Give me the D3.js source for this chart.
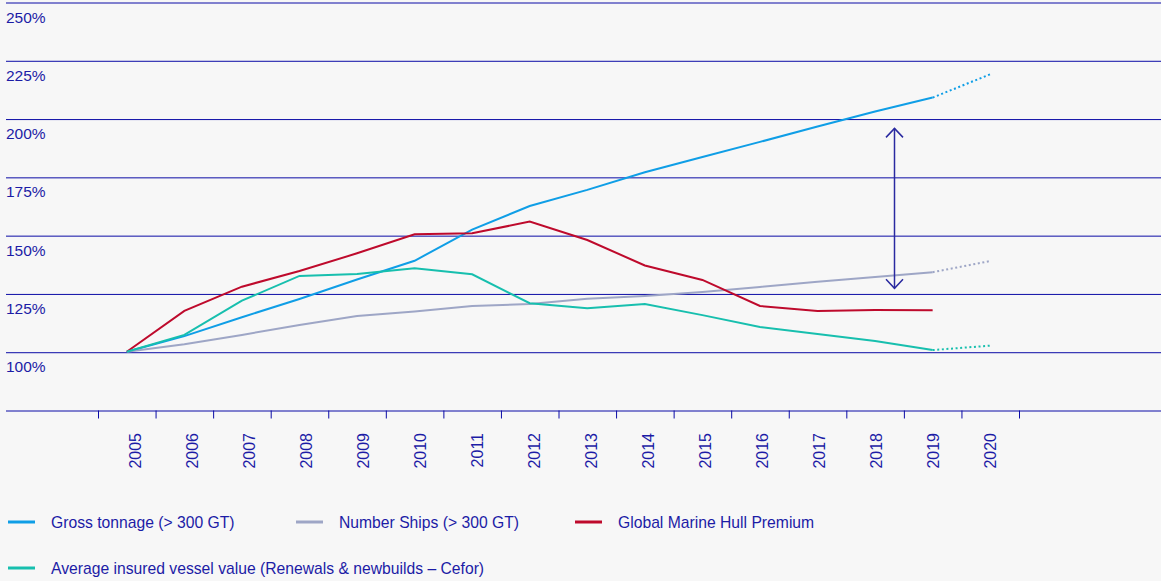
<!DOCTYPE html>
<html>
<head>
<meta charset="utf-8">
<script src="https://cdn.jsdelivr.net/npm/d3@7"></script>
<style>
  html, body { margin: 0; padding: 0; background: #f7f7f7; }
  svg { display: block; font-family: "Liberation Sans", Arial, sans-serif; }
</style>
</head>
<body>
<div id="chart"></div>
<script>
// data, index 2005 = 100%
var years = [2005, 2006, 2007, 2008, 2009, 2010, 2011, 2012, 2013, 2014, 2015, 2016, 2017, 2018, 2019, 2020];
var grossTonnage = [100, 106.7, 114.8, 122.6, 131, 139, 152.4, 162.5, 169.4, 177, 183.5, 190, 196.6, 203, 209, 219];
var numberShips = [100, 103.2, 107.2, 111.5, 115.3, 117.2, 119.6, 120.5, 122.7, 123.9, 125.6, 127.8, 130, 132, 134.1, 138.9];
var hullPremium = [100, 117.5, 127.9, 134.6, 142.2, 150.4, 150.8, 155.8, 147.9, 137, 130.8, 119.6, 117.5, 117.9, 117.8];
var vesselValue = [100, 107.2, 121.9, 132.5, 133.3, 135.8, 133.2, 120.8, 118.6, 120.5, 115.7, 110.6, 107.6, 104.6, 100.7, 102.6];
var yTicks = [75, 100, 125, 150, 175, 200, 225, 250];
var arrowSpan = [127.2, 195.8]; // gap marker between 2018 and 2019
var arrowYear = 2018.32;

var series = [
  { name: 'Gross tonnage (> 300 GT)', values: grossTonnage, color: '#0f9ee6' },
  { name: 'Number Ships (> 300 GT)', values: numberShips, color: '#9ea6c6' },
  { name: 'Global Marine Hull Premium', values: hullPremium, color: '#be0a2c' },
  { name: 'Average insured vessel value (Renewals & newbuilds \u2013 Cefor)', values: vesselValue, color: '#17bfae' }
];

var width = 1161, height = 581;
var ink = '#1c1ca6';
var gridInk = '#0b0ba6';

var svg = d3.select('#chart').append('svg')
  .attr('width', width)
  .attr('height', height);

var x = d3.scaleLinear().domain([2004.5, 2020.5]).range([98, 1019]);
var xLabel = d3.scaleLinear().domain([2004.5, 2020.5]).range([107, 1019]);
var y = d3.scaleLinear().domain([75, 250]).range([410, 2]);

// grid + y labels
var grid = svg.append('g').attr('transform', 'translate(6,0)')
  .call(d3.axisRight(y).tickValues(yTicks).tickSize(width - 6)
    .tickFormat(function(d) { return d === 75 ? '' : d + '%'; }));
grid.select('.domain').remove();
grid.selectAll('.tick line').attr('stroke', gridInk).attr('stroke-width', 1)
  .attr('transform', 'translate(0,0.5)');
grid.selectAll('.tick text')
  .attr('x', 0).attr('dy', 20)
  .attr('text-anchor', 'start')
  .attr('fill', ink)
  .style('font-size', '15.5px');

// x axis ticks on band boundaries
var xAxis = svg.append('g').attr('transform', 'translate(0,410.5)')
  .call(d3.axisBottom(x).tickValues(d3.range(2004.5, 2021, 1)).tickSize(8).tickFormat(''));
xAxis.select('.domain').remove();
xAxis.selectAll('.tick line').attr('stroke', gridInk);

svg.append('g').selectAll('text')
  .data(years)
  .enter().append('text')
  .attr('transform', function(d) { return 'translate(' + xLabel(d) + ',433) rotate(-90)'; })
  .attr('text-anchor', 'end')
  .attr('dy', '0.35em')
  .attr('fill', ink)
  .style('font-size', '16px')
  .text(function(d) { return d; });

// lines
var line = d3.line()
  .x(function(d) { return x(d.year); })
  .y(function(d) { return y(d.value); });

var lines = svg.append('g');
series.forEach(function(s) {
  var pts = s.values.map(function(v, i) { return { year: years[i], value: v }; });
  var solid = pts.filter(function(d) { return d.year <= 2019; });
  var proj = pts.filter(function(d) { return d.year >= 2019; });
  lines.append('path').datum(solid)
    .attr('fill', 'none').attr('stroke', s.color).attr('stroke-width', 2)
    .attr('d', line);
  if (proj.length > 1) {
    lines.append('path').datum(proj)
      .attr('fill', 'none').attr('stroke', s.color).attr('stroke-width', 2)
      .attr('stroke-dasharray', '2,2.6')
      .attr('d', line);
  }
});

// arrow
var ax = Math.round(x(arrowYear)) + 0.5;
var yTop = y(arrowSpan[1]), yBot = y(arrowSpan[0]);
var arrow = svg.append('g').attr('stroke', '#2a2aa0').attr('stroke-width', 1.5).attr('fill', 'none');
arrow.append('line').attr('x1', ax).attr('x2', ax).attr('y1', yTop).attr('y2', yBot);
arrow.append('path').attr('d', 'M' + (ax - 8.5) + ',' + (yTop + 9) + 'L' + ax + ',' + yTop + 'L' + (ax + 8.5) + ',' + (yTop + 9));
arrow.append('path').attr('d', 'M' + (ax - 8.5) + ',' + (yBot - 9) + 'L' + ax + ',' + yBot + 'L' + (ax + 8.5) + ',' + (yBot - 9));

// legend
var legendPos = [[8, 522], [296, 522], [575, 522], [8, 568]];
var legend = svg.append('g').selectAll('g')
  .data(series)
  .enter().append('g')
  .attr('transform', function(d, i) { return 'translate(' + legendPos[i][0] + ',' + legendPos[i][1] + ')'; });
legend.append('line')
  .attr('x1', 0).attr('x2', 27)
  .attr('stroke', function(d) { return d.color; })
  .attr('stroke-width', 3);
legend.append('text')
  .attr('x', 43).attr('dy', '0.35em')
  .attr('fill', ink)
  .style('font-size', '15.7px')
  .text(function(d) { return d.name; });
</script>
</body>
</html>
